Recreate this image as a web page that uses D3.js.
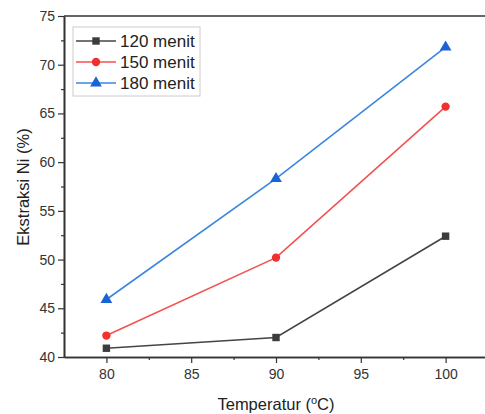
<!DOCTYPE html>
<html>
<head>
<meta charset="utf-8">
<script src="https://cdn.jsdelivr.net/npm/d3@7"></script>
<style>
  body { margin: 0; background: #fff; }
  text { font-family: Arial, "Liberation Sans", sans-serif; }
</style>
</head>
<body>
<svg id="chart" width="485" height="414"></svg>
<script>
// data
var temps = [80, 90, 100];
var menit120 = [40.9, 42.0, 52.4];
var menit150 = [42.2, 50.2, 65.7];
var menit180 = [45.9, 58.3, 71.8];
var seriesNames = ['120 menit', '150 menit', '180 menit'];
var xTicks = [80, 85, 90, 95, 100];
var yTicks = [40, 45, 50, 55, 60, 65, 70, 75];

var svg = d3.select('#chart');
var plotL = 64, plotT = 16, plotB = 357, plotR = 488;

var x = d3.scaleLinear().domain([77.5, 102.5]).range([plotL, plotR]);
var y = d3.scaleLinear().domain([40, 75]).range([plotB, plotT]);

var series = [
  { name: seriesNames[0], vals: menit120, line: '#454545', fill: '#3c3c3c', shape: d3.symbolSquare },
  { name: seriesNames[1], vals: menit150, line: '#f25252', fill: '#f23030', shape: d3.symbolCircle },
  { name: seriesNames[2], vals: menit180, line: '#3a86e0', fill: '#1a63d6', shape: d3.symbolTriangle }
];

// top frame line
svg.append('line')
  .attr('x1', plotL).attr('x2', 485).attr('y1', plotT).attr('y2', plotT)
  .attr('stroke', '#666').attr('stroke-width', 2);

// axes
var xAxis = svg.append('g').attr('transform', 'translate(0,' + plotB + ')')
  .call(d3.axisBottom(x).tickValues(xTicks).tickSize(6).tickPadding(6).tickSizeOuter(0));
var xMinor = svg.append('g').attr('transform', 'translate(0,' + plotB + ')')
  .call(d3.axisBottom(x).tickValues([82.5, 87.5, 92.5, 97.5]).tickSize(3).tickFormat('').tickSizeOuter(0));
var yAxis = svg.append('g').attr('transform', 'translate(' + plotL + ',0)')
  .call(d3.axisLeft(y).tickValues(yTicks).tickSize(6).tickPadding(3).tickSizeOuter(0));
var yMinor = svg.append('g').attr('transform', 'translate(' + plotL + ',0)')
  .call(d3.axisLeft(y).tickValues([42.5, 47.5, 52.5, 57.5, 62.5, 67.5, 72.5]).tickSize(3).tickFormat('').tickSizeOuter(0));

[xAxis, xMinor, yAxis, yMinor].forEach(function(g) {
  g.select('.domain').attr('stroke', '#333').attr('stroke-width', 1.6);
  g.selectAll('.tick line').attr('stroke', '#333').attr('stroke-width', 1.2);
  g.selectAll('.tick text').attr('fill', '#333').style('font-size', '14px');
});

// axis titles
var xt = svg.append('text')
  .attr('x', 276).attr('y', 410)
  .attr('text-anchor', 'middle').attr('fill', '#222').style('font-size', '16.5px');
xt.append('tspan').text('Temperatur (');
xt.append('tspan').attr('dy', -6).style('font-size', '11px').text('o');
xt.append('tspan').attr('dy', 6).text('C)');

svg.append('text')
  .attr('transform', 'translate(29,187) rotate(-90)')
  .attr('text-anchor', 'middle').attr('fill', '#222').style('font-size', '16.5px')
  .text('Ekstraksi Ni (%)');

// lines and markers
var line = d3.line().x(function(d, i) { return x(temps[i]); }).y(function(d) { return y(d); });

series.forEach(function(s) {
  svg.append('path').datum(s.vals)
    .attr('d', line).attr('fill', 'none')
    .attr('stroke', s.line).attr('stroke-width', 1.6);
  svg.selectAll(null).data(s.vals).enter().append('path')
    .attr('transform', function(d, i) { return 'translate(' + x(temps[i]) + ',' + y(d) + ')'; })
    .attr('d', d3.symbol().type(s.shape).size(s.shape === d3.symbolTriangle ? 60 : 55))
    .attr('fill', s.fill);
});

// legend
var lg = svg.append('g').attr('transform', 'translate(73,27)');
lg.append('rect').attr('width', 127).attr('height', 69)
  .attr('fill', '#fff').attr('stroke', '#ccc').attr('stroke-width', 1);
series.forEach(function(s, i) {
  var ly = 14 + i * 21;
  lg.append('line').attr('x1', 3).attr('x2', 43).attr('y1', ly).attr('y2', ly)
    .attr('stroke', s.line).attr('stroke-width', 1.6);
  lg.append('path').attr('transform', 'translate(23,' + ly + ')')
    .attr('d', d3.symbol().type(s.shape).size(s.shape === d3.symbolTriangle ? 60 : 55))
    .attr('fill', s.fill);
  lg.append('text').attr('x', 47).attr('y', ly + 6)
    .attr('fill', '#222').style('font-size', '17px').text(s.name);
});
</script>
</body>
</html>
